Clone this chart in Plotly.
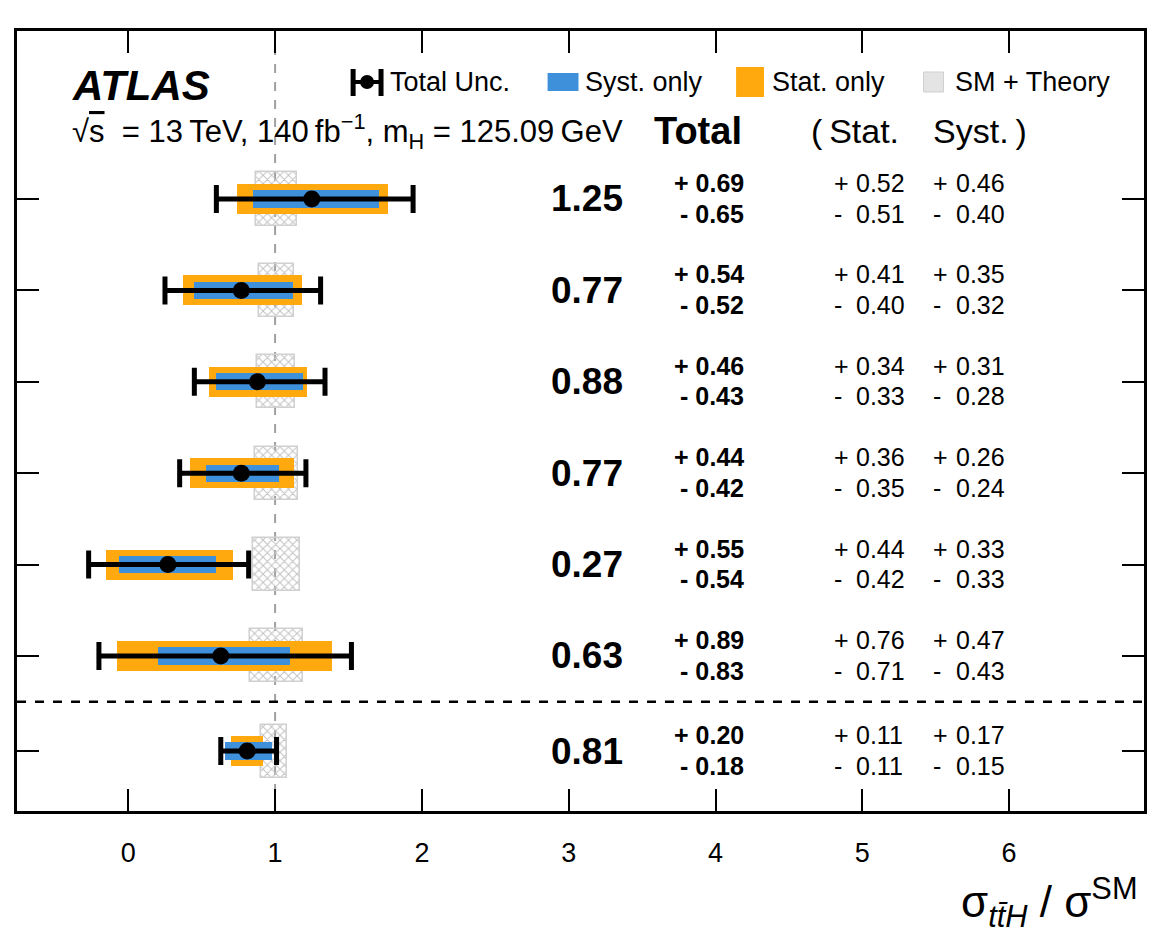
import plotly.graph_objects as go

# ---- measured signal strengths (ttH cross-section ratio to SM) ----
central = [1.25, 0.77, 0.88, 0.77, 0.27, 0.63]
tot_up = [0.69, 0.54, 0.46, 0.44, 0.55, 0.89]
tot_dn = [0.65, 0.52, 0.43, 0.42, 0.54, 0.83]
stat_up = [0.52, 0.41, 0.34, 0.36, 0.44, 0.76]
stat_dn = [0.51, 0.40, 0.33, 0.35, 0.42, 0.71]
syst_up = [0.46, 0.35, 0.31, 0.26, 0.33, 0.47]
syst_dn = [0.40, 0.32, 0.28, 0.24, 0.33, 0.43]
# SM prediction with theory uncertainty per row
sm_value = 1.0
sm_up = [0.15, 0.13, 0.135, 0.155, 0.17, 0.19]
sm_dn = [0.13, 0.11, 0.12, 0.14, 0.15, 0.17]

# combined measurement
comb_central = 0.81
comb_tot_up, comb_tot_dn = 0.20, 0.18
comb_stat_up, comb_stat_dn = 0.11, 0.11
comb_syst_up, comb_syst_dn = 0.17, 0.15
comb_sm_up, comb_sm_dn = 0.08, 0.095

x_ticks = [0, 1, 2, 3, 4, 5, 6]

# ---- row placement ----
n = len(central)
separator_y = 1.5
row_y = [n + 1 - i for i in range(n)]
comb_y = separator_y - 0.54

ys = row_y + [comb_y]
c_all = central + [comb_central]
tu = tot_up + [comb_tot_up]
td = tot_dn + [comb_tot_dn]
su = stat_up + [comb_stat_up]
sd = stat_dn + [comb_stat_dn]
yu = syst_up + [comb_syst_up]
yd = syst_dn + [comb_syst_dn]
mu = sm_up + [comb_sm_up]
md = sm_dn + [comb_sm_dn]

ORANGE = "#ffa90e"
BLUE = "#3f90da"
FONT = "Liberation Sans"

# plot-area geometry (pixels)
W, H = 1150, 931
ML, MR, MT, MB = 17, 3, 31, 120
PW, PH = W - ML - MR, H - MT - MB
X0 = -0.758
X1 = X0 + PW / 147.2
Y0, Y1 = 0.304, 8.838


def px(xp):
    return (xp - ML) / PW


def py(yp):
    return (H - MB - yp) / PH


fig = go.Figure()

# SM + theory band (hatched, transparent background)
fig.add_trace(go.Bar(
    orientation="h", y=ys,
    base=[sm_value - d for d in md],
    x=[u + d for u, d in zip(mu, md)],
    width=0.58,
    marker=dict(color="rgba(0,0,0,0)",
                pattern=dict(shape="x", fgcolor="#c2c2c2", bgcolor="rgba(0,0,0,0)",
                             size=6, solidity=0.3, fillmode="replace"),
                line=dict(color="#d0d0d0", width=1.5)),
    showlegend=False, hoverinfo="skip"))

# statistical-only band
fig.add_trace(go.Bar(
    orientation="h", y=ys,
    base=[c - d for c, d in zip(c_all, sd)],
    x=[u + d for u, d in zip(su, sd)],
    width=0.33, marker=dict(color=ORANGE, line=dict(width=0)),
    showlegend=False, hoverinfo="skip"))

# systematic-only band
fig.add_trace(go.Bar(
    orientation="h", y=ys,
    base=[c - d for c, d in zip(c_all, yd)],
    x=[u + d for u, d in zip(yu, yd)],
    width=0.19, marker=dict(color=BLUE, line=dict(width=0)),
    showlegend=False, hoverinfo="skip"))

# total uncertainty
fig.add_trace(go.Scatter(
    x=c_all, y=ys, mode="markers",
    marker=dict(color="black", size=17),
    error_x=dict(type="data", symmetric=False, array=tu, arrayminus=td,
                 color="black", thickness=5, width=14),
    showlegend=False, hoverinfo="skip"))

shapes = [
    # SM reference line
    dict(type="line", xref="x", yref="paper", x0=sm_value, x1=sm_value, y0=0, y1=1,
         line=dict(color="#a0a0a0", width=2, dash="dash"), layer="below"),
    # separator between channels and combination
    dict(type="line", xref="paper", yref="y", x0=0, x1=1, y0=separator_y, y1=separator_y,
         line=dict(color="black", width=2.5, dash="dash"), layer="above"),
]

annotations = []


def txt(x, y, s, size, xanchor="left", xref="paper", yref="paper", bold=False, **kw):
    annotations.append(dict(
        x=x, y=y, xref=xref, yref=yref, text=f"<b>{s}</b>" if bold else s,
        showarrow=False, xanchor=xanchor, yanchor="middle",
        font=dict(family=FONT, size=size, color="black"), **kw))


# value columns
for y, c, u, d, s_u, s_d, y_u, y_d in zip(ys, c_all, tu, td, su, sd, yu, yd):
    txt(3.125, y, f"{c:.2f}", 37, xanchor="center", xref="x", yref="y", bold=True)
    txt(4.21, y + 0.175, f"+ {u:.2f}", 25, xanchor="right", xref="x", yref="y", bold=True)
    txt(4.21, y - 0.16, f"- {d:.2f}", 25, xanchor="right", xref="x", yref="y", bold=True)
    for xs, xv, up, dn in ((4.79, 4.946, s_u, s_d), (5.469, 5.625, y_u, y_d)):
        txt(xs, y + 0.175, "+", 25, xref="x", yref="y")
        txt(xs, y - 0.16, "-", 25, xref="x", yref="y")
        txt(xv, y + 0.175, f"{up:.2f}", 25, xref="x", yref="y")
        txt(xv, y - 0.16, f"{dn:.2f}", 25, xref="x", yref="y")

# headers
txt(px(700), py(131), "Total", 38, xanchor="center", bold=True)
txt(px(921), py(131), "(\u2009Stat.\u2003Syst.\u2009)", 34, xanchor="center")
txt(px(70), py(86), "<b><i>ATLAS</i></b>", 42)
txt(px(70), py(131),
    "\u221A<span style='text-decoration:overline'>s</span>  = 13\u2009TeV, 140\u2009fb<sup>\u22121</sup>, "
    "m<sub>H</sub> = 125.09\u2009GeV", 31)

# legend
lg_y = 82
shapes += [
    dict(type="line", xref="paper", yref="paper", x0=px(354), x1=px(382), y0=py(lg_y), y1=py(lg_y),
         line=dict(color="black", width=4)),
    dict(type="line", xref="paper", yref="paper", x0=px(354), x1=px(354), y0=py(69), y1=py(96),
         line=dict(color="black", width=5)),
    dict(type="line", xref="paper", yref="paper", x0=px(382), x1=px(382), y0=py(69), y1=py(96),
         line=dict(color="black", width=5)),
    dict(type="circle", xref="paper", yref="paper", x0=px(361), x1=px(375), y0=py(89), y1=py(75),
         fillcolor="black", line=dict(width=0)),
    dict(type="rect", xref="paper", yref="paper", x0=px(549), x1=px(580), y0=py(91), y1=py(73),
         fillcolor=BLUE, line=dict(width=0)),
    dict(type="rect", xref="paper", yref="paper", x0=px(738), x1=px(766), y0=py(97), y1=py(67),
         fillcolor=ORANGE, line=dict(width=0)),
    dict(type="rect", xref="paper", yref="paper", x0=px(926), x1=px(946), y0=py(92), y1=py(72),
         fillcolor="#e4e4e4", line=dict(color="#cfcfcf", width=1)),
]
txt(px(389), py(lg_y), "Total Unc.", 27)
txt(px(585), py(lg_y), "Syst. only", 27)
txt(px(772), py(lg_y), "Stat. only", 27)
txt(px(955), py(lg_y), "SM + Theory", 27)

# x-axis title
txt(px(1143), py(902), "\u03C3<sub><i>tt\u0304H</i></sub> / \u03C3<sup>SM</sup>", 44, xanchor="right")

fig.update_layout(
    width=W, height=H,
    margin=dict(l=ML, r=MR, t=MT, b=MB, pad=0),
    paper_bgcolor="white", plot_bgcolor="white",
    barmode="overlay", bargap=0,
    shapes=shapes, annotations=annotations,
    showlegend=False,
    font=dict(family=FONT, color="black"),
    xaxis=dict(range=[X0, X1], tickvals=x_ticks, ticktext=[str(t) for t in x_ticks],
               ticks="inside", ticklen=22, tickwidth=1.5, tickcolor="black",
               showline=True, linewidth=3, linecolor="black", mirror="allticks",
               showgrid=False, zeroline=False, tickfont=dict(size=27, family=FONT),
               ticklabelstandoff=16),
    yaxis=dict(range=[Y0, Y1], tickvals=ys, showticklabels=False,
               ticks="inside", ticklen=22, tickwidth=1.5, tickcolor="black",
               showline=True, linewidth=3, linecolor="black", mirror="allticks",
               showgrid=False, zeroline=False),
)

fig.write_html("out.html")
